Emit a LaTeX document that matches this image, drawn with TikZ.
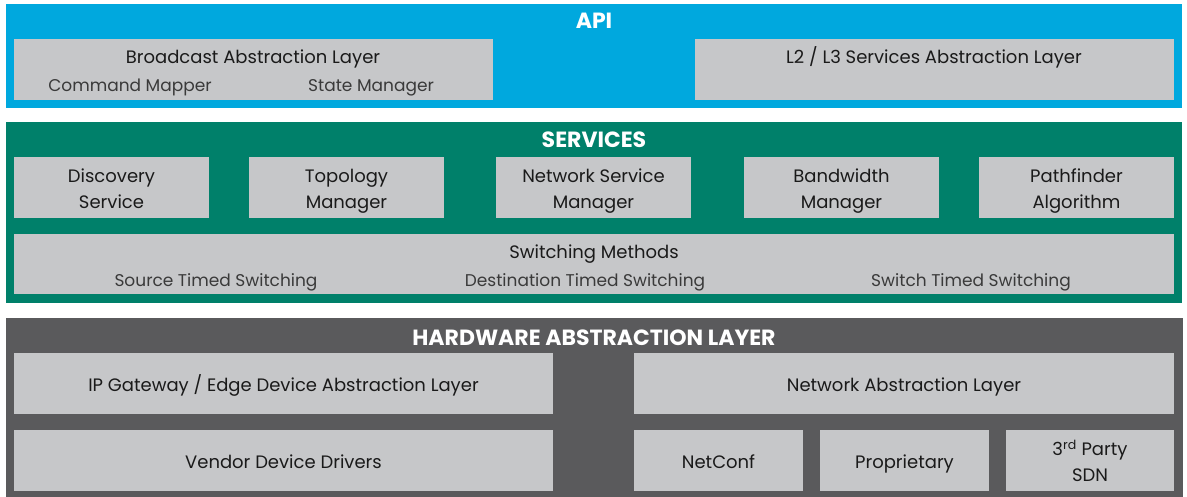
\documentclass[tikz,border=0pt]{standalone}
\usepackage{fontspec}
\setmainfont{Poppins}
\definecolor{apiblue}{HTML}{00A8DE}
\definecolor{srvgreen}{HTML}{00806A}
\definecolor{halgray}{HTML}{5A5A5C}
\definecolor{boxgray}{HTML}{C6C7C9}
\definecolor{labblack}{HTML}{1A1A1A}
\definecolor{subgray}{HTML}{3A3A3A}
\newcommand{\ls}{\rule[-5pt]{0pt}{26pt}}
\begin{document}
\begin{tikzpicture}[x=1pt,y=-1pt,
  panel/.style={fill=#1, draw=none},
  box/.style={fill=boxgray, draw=none, inner sep=0pt, outer sep=0pt, anchor=north west,
    align=center, text=labblack, font=\fontsize{18}{26}\selectfont},
  lab/.style={inner sep=0pt, anchor=base, text=labblack, font=\fontsize{18}{26}\selectfont},
  sublab/.style={inner sep=0pt, anchor=base, text=subgray, font=\fontsize{17}{24}\selectfont},
  title/.style={inner sep=0pt, anchor=base, text=white, font=\fontsize{22}{26}\selectfont\bfseries}]
\useasboundingbox (0,0) rectangle (1187,497);
% panels
\fill[panel=apiblue] (6,4) rectangle (1182,108);
\fill[panel=srvgreen] (6,122) rectangle (1182,303);
\fill[panel=halgray] (6,318) rectangle (1183,497);
% API
\node[title] (apit) at (594,29) {API};
\node[box, minimum width=479pt, minimum height=61pt] (bal) at (14,39) {};
\node[lab] (balt) at (253,64) {Broadcast Abstraction Layer};
\node[sublab] (cm) at (130,91.5) {Command Mapper};
\node[sublab] (sm) at (371,91.5) {State Manager};
\node[box, minimum width=479pt, minimum height=61pt] (l23) at (695,39) {};
\node[lab] (l23t) at (934,64) {L2 / L3 Services Abstraction Layer};
% SERVICES
\node[title] (srvt) at (594,148) {SERVICES};
\node[box, minimum width=195pt, minimum height=61pt] (disc) at (14,157) {Discovery\ls\\Service\ls};
\node[box, minimum width=195pt, minimum height=61pt] (topo) at (249,157) {Topology\ls\\Manager\ls};
\node[box, minimum width=195pt, minimum height=61pt] (nsm) at (496,157) {Network Service\ls\\Manager\ls};
\node[box, minimum width=195pt, minimum height=61pt] (bwm) at (744,157) {Bandwidth\ls\\Manager\ls};
\node[box, minimum width=195pt, minimum height=61pt] (path) at (979,157) {Pathfinder\ls\\Algorithm\ls};
\node[box, minimum width=1160pt, minimum height=60pt] (swm) at (14,234) {};
\node[lab] (swmt) at (594,259) {Switching Methods};
\node[sublab] (sts) at (216,286.5) {Source Timed Switching};
\node[sublab] (dts) at (585,286.5) {Destination Timed Switching};
\node[sublab] (wts) at (971,286.5) {Switch Timed Switching};
% HAL
\node[title] (halt) at (594,345) {HARDWARE ABSTRACTION LAYER};
\node[box, minimum width=539pt, minimum height=61pt] (ipg) at (14,353) {IP Gateway / Edge Device Abstraction Layer\ls};
\node[box, minimum width=540pt, minimum height=61pt] (nal) at (634,353) {Network Abstraction Layer\ls};
\node[box, minimum width=539pt, minimum height=61pt] (vdd) at (14,430) {Vendor Device Drivers\ls};
\node[box, minimum width=169pt, minimum height=61pt] (ncf) at (634,430) {NetConf\ls};
\node[box, minimum width=169pt, minimum height=61pt] (prop) at (820,430) {Proprietary\ls};
\node[box, minimum width=168pt, minimum height=61pt] (sdn) at (1006,430) {3\textsuperscript{rd} Party\ls\\SDN\ls};
\end{tikzpicture}
\end{document}
